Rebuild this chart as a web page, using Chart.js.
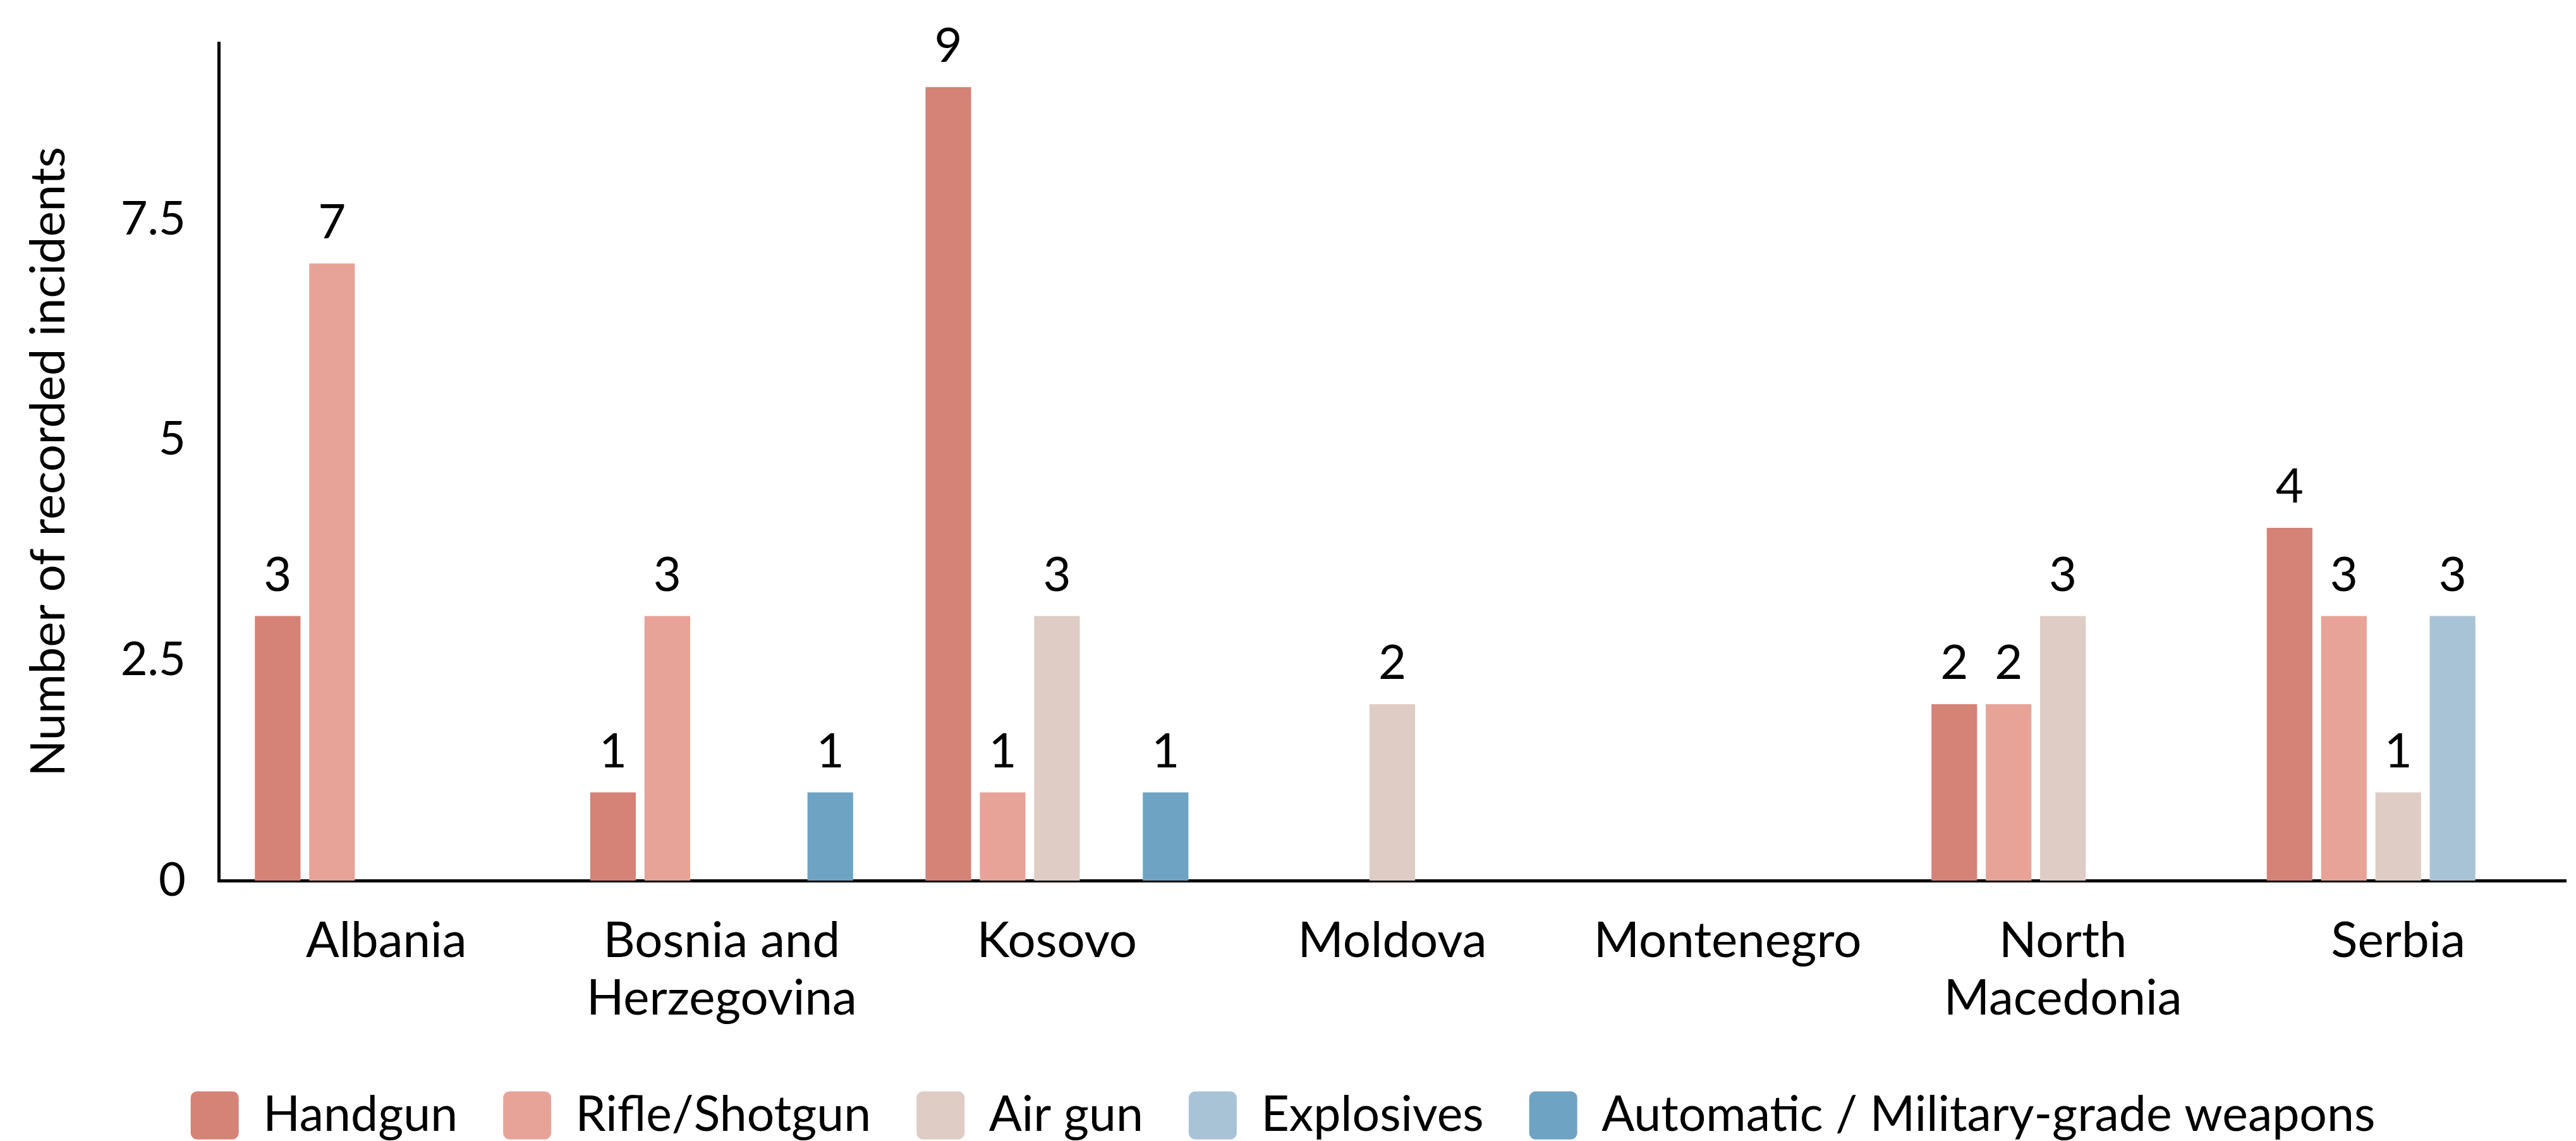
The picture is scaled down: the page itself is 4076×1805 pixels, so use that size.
<!DOCTYPE html>
<html lang="en">
<head>
    <meta charset="UTF-8">
    <title>Recorded incidents by weapon type</title>
    <script src="https://cdn.jsdelivr.net/npm/chart.js"></script>
    <style>
        body {
            margin: 0;
            background-color: #ffffff;
            overflow: hidden;
        }
        .chart-container {
            width: 4076px;
            height: 1813px;
        }
    </style>
</head>
<body>
    <div class="chart-container">
        <canvas id="myChart"></canvas>
    </div>

    <script>
        // Data
        const countries = ['Albania', ['Bosnia and', 'Herzegovina'], 'Kosovo', 'Moldova', 'Montenegro', ['North', 'Macedonia'], 'Serbia'];
        const seriesNames = ['Handgun', 'Rifle/Shotgun', 'Air gun', 'Explosives', 'Automatic / Military-grade weapons'];
        const handgun = [3, 1, 9, 0, 0, 2, 4];
        const rifleShotgun = [7, 3, 1, 0, 0, 2, 3];
        const airGun = [0, 0, 3, 2, 0, 3, 1];
        const explosives = [0, 0, 0, 0, 0, 0, 3];
        const automatic = [0, 1, 1, 0, 0, 0, 0];
        const seriesColors = ['#d58277', '#e7a398', '#dfccc5', '#a9c3d6', '#6fa3c3'];

        const FONT = 'Lato';
        const SIZE = 76;

        // Value labels above each bar (zeros are left out)
        const barLabels = {
            id: 'barLabels',
            afterDatasetsDraw(chart) {
                const ctx = chart.ctx;
                ctx.save();
                ctx.font = SIZE + 'px ' + FONT;
                ctx.fillStyle = '#000';
                ctx.textAlign = 'center';
                ctx.textBaseline = 'alphabetic';
                chart.data.datasets.forEach((ds, i) => {
                    const meta = chart.getDatasetMeta(i);
                    meta.data.forEach((bar, j) => {
                        const v = ds.data[j];
                        if (!v) return;
                        ctx.fillText(String(v), bar.x, bar.y - 40);
                    });
                });
                ctx.restore();
            }
        };

        const allSeries = [handgun, rifleShotgun, airGun, explosives, automatic];

        const ctx = document.getElementById('myChart').getContext('2d');
        new Chart(ctx, {
            type: 'bar',
            data: {
                labels: countries,
                datasets: allSeries.map((values, i) => ({
                    label: seriesNames[i],
                    data: values,
                    backgroundColor: seriesColors[i],
                    borderWidth: 0,
                    categoryPercentage: 0.81,
                    barPercentage: 0.84
                }))
            },
            options: {
                responsive: true,
                maintainAspectRatio: false,
                animation: false,
                layout: {
                    padding: { left: 0, right: 16, top: 68, bottom: 0 }
                },
                scales: {
                    x: {
                        grid: { display: false, drawTicks: false },
                        border: { color: '#000', width: 5 },
                        ticks: {
                            color: '#000',
                            padding: 50,
                            maxRotation: 0,
                            autoSkip: false,
                            font: { family: FONT, size: 78, lineHeight: 1.17 }
                        },
                        afterFit(scale) { scale.height = 261; }
                    },
                    y: {
                        min: 0,
                        max: 9.5,
                        grid: { display: false, drawTicks: false },
                        border: { color: '#000', width: 5 },
                        ticks: {
                            stepSize: 2.5,
                            includeBounds: false,
                            color: '#000',
                            padding: 52,
                            font: { family: FONT, size: 74 }
                        },
                        title: {
                            display: true,
                            text: 'Number of recorded incidents',
                            color: '#000',
                            padding: { top: 32, bottom: 0 },
                            font: { family: FONT, size: SIZE, lineHeight: 1.2 }
                        },
                        afterFit(scale) {
                            scale.width = 346;
                            // keep the tick padding from pushing the plot down
                            scale.paddingTop = 0;
                            scale.paddingBottom = 0;
                        }
                    }
                },
                plugins: {
                    legend: {
                        position: 'bottom',
                        labels: {
                            color: '#000',
                            boxWidth: 76,
                            boxHeight: 76,
                            padding: 72,
                            useBorderRadius: true,
                            borderRadius: 10,
                            font: { family: FONT, size: 77 }
                        }
                    },
                    tooltip: { enabled: false }
                }
            },
            plugins: [barLabels]
        });
    </script>
</body>
</html>
